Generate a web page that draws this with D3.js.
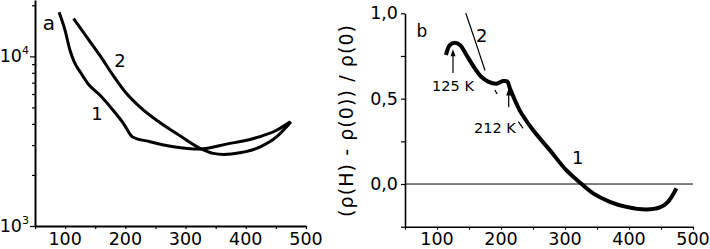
<!DOCTYPE html>
<html>
<head>
<meta charset="utf-8">
<script src="https://cdn.jsdelivr.net/npm/d3@7"></script>
<style>
  body { margin: 0; background: #fff; }
  svg { display: block; font-family: "DejaVu Sans", "Liberation Sans", Arial, sans-serif; }
  .axis path, .axis line { stroke: #000; }
  .axis text { display: none; }
</style>
</head>
<body>
<svg id="chart" width="710" height="249"></svg>
<script>
// panel a : resistance (log) vs T
var leftT1 = [90, 100, 108, 115, 125, 138, 158, 180, 197, 212, 241, 280, 324, 368, 413, 451, 474];
var leftR1 = [18200, 14200, 10900, 9300, 8100, 6900, 5900, 4800, 4020, 3350, 3140, 2930, 2840, 3040, 3280, 3670, 4110];
var leftT2 = [114, 136, 158, 180, 202, 224, 252, 285, 324, 346, 363, 390, 424, 451, 470, 475];
var leftR2 = [16700, 13000, 10100, 7700, 6040, 5040, 4200, 3510, 2870, 2680, 2640, 2700, 2930, 3350, 3930, 4110];

// panel b : magnetoresistance vs T
var rightT1 = [114, 120, 128, 136, 146, 159, 170, 180, 193, 203, 210, 214, 229, 250, 276, 302, 326, 344, 370, 396, 427, 448, 461, 474];
var rightR1 = [0.756, 0.814, 0.828, 0.814, 0.756, 0.678, 0.625, 0.6, 0.588, 0.603, 0.6, 0.56, 0.433, 0.316, 0.2, 0.081, 0.0, -0.055, -0.104, -0.134, -0.149, -0.137, -0.104, -0.026];
var rightT2 = [145, 160, 175];
var rightR2 = [1.0, 0.835, 0.665];
var dashT = [[190.5, 194], [227, 234.5], [272, 279]];
var dashR = [[0.55, 0.527], [0.365, 0.326], [0.21, 0.181]];

var xTicks = [100, 200, 300, 400, 500];
var rTicks = [0, 0.5, 1.0];

var svg = d3.select('#chart');

// ---------- panel a ----------
var xa = d3.scaleLinear().domain([50, 500]).range([35, 306]);
var ya = d3.scaleLog().domain([1000, 21500]).range([226, 0]);

var ga = svg.append('g');

ga.append('g')
    .attr('class', 'axis')
    .attr('transform', `translate(0,${ya(1000)})`)
    .call(d3.axisBottom(xa).tickValues(d3.range(50, 501, 50)).tickSize(3).tickSizeOuter(0))
    .call(g => g.select('.domain').attr('stroke-width', 2))
    .call(g => g.selectAll('line').attr('stroke-width', 1.2));

var logMinor = [2000, 3000, 4000, 5000, 6000, 7000, 8000, 9000, 20000];
ga.append('g')
    .attr('class', 'axis')
    .attr('transform', `translate(${xa(50)},0)`)
    .call(d3.axisLeft(ya).tickValues([1000, 10000]).tickSize(5).tickSizeOuter(0))
    .call(g => g.select('.domain').attr('stroke-width', 2))
    .call(g => g.selectAll('line').attr('stroke-width', 1.2));
ga.append('g')
    .attr('class', 'axis')
    .attr('transform', `translate(${xa(50)},0)`)
    .call(d3.axisLeft(ya).tickValues(logMinor).tickSize(3).tickSizeOuter(0))
    .call(g => g.select('.domain').remove())
    .call(g => g.selectAll('line').attr('stroke-width', 1.2));

ga.selectAll('text.xl')
    .data(xTicks)
    .enter()
    .append('text')
    .attr('x', d => xa(d))
    .attr('y', 245)
    .attr('text-anchor', 'middle')
    .attr('font-size', 17.5)
    .text(d => d);

var decades = [[1000, '3'], [10000, '4']];
decades.forEach(function (d) {
    var t = ga.append('text')
        .attr('x', 29)
        .attr('y', ya(d[0]) + 6)
        .attr('text-anchor', 'end')
        .attr('font-size', 17.5);
    t.append('tspan').text('10');
    t.append('tspan').attr('dy', -8).attr('font-size', 11).text(d[1]);
});

var lineA = d3.line()
    .x(d => xa(d[0]))
    .y(d => ya(d[1]))
    .curve(d3.curveMonotoneX);

ga.append('path')
    .datum(d3.zip(leftT1, leftR1))
    .attr('d', lineA)
    .attr('fill', 'none')
    .attr('stroke', '#000')
    .attr('stroke-width', 3);
ga.append('path')
    .datum(d3.zip(leftT2, leftR2))
    .attr('d', lineA)
    .attr('fill', 'none')
    .attr('stroke', '#000')
    .attr('stroke-width', 3);

var labelsA = [['a', 73, 14300, 20], ['2', 191, 8600, 18], ['1', 153, 4210, 18]];
ga.selectAll('text.lab')
    .data(labelsA)
    .enter()
    .append('text')
    .attr('x', d => xa(d[1]))
    .attr('y', d => ya(d[2]))
    .attr('text-anchor', 'middle')
    .attr('font-size', d => d[3])
    .text(d => d[0]);

// ---------- panel b ----------
var xb = d3.scaleLinear().domain([50, 500]).range([405, 693]);
var yb = d3.scaleLinear().domain([-0.25, 1.0]).range([226.7, 13.3]);

var gb = svg.append('g');

gb.append('g')
    .attr('class', 'axis')
    .attr('transform', `translate(0,${yb(-0.25)})`)
    .call(d3.axisBottom(xb).tickValues(d3.range(50, 501, 50)).tickSize(3).tickSizeOuter(0))
    .call(g => g.select('.domain').attr('stroke-width', 1.6))
    .call(g => g.selectAll('line').attr('stroke-width', 1.2));
gb.append('g')
    .attr('class', 'axis')
    .attr('transform', `translate(${xb(50)},0)`)
    .call(d3.axisLeft(yb).tickValues([-0.25, 0, 0.25, 0.5, 0.75, 1.0]).tickSize(4).tickSizeOuter(0))
    .call(g => g.select('.domain').attr('stroke-width', 1.6))
    .call(g => g.selectAll('line').attr('stroke-width', 1.2));

gb.selectAll('text.xl')
    .data(xTicks)
    .enter()
    .append('text')
    .attr('x', d => xb(d))
    .attr('y', 245)
    .attr('text-anchor', 'middle')
    .attr('font-size', 17.5)
    .text(d => d);

gb.selectAll('text.yl')
    .data(rTicks)
    .enter()
    .append('text')
    .attr('x', 398)
    .attr('y', d => yb(d) + 6)
    .attr('text-anchor', 'end')
    .attr('font-size', 17.5)
    .text(d => d3.format('.1f')(d).replace('.', ','));

// zero line
gb.append('line')
    .attr('x1', xb(50)).attr('x2', xb(500))
    .attr('y1', yb(0)).attr('y2', yb(0))
    .attr('stroke', '#000')
    .attr('stroke-width', 1);

var lineB = d3.line()
    .x(d => xb(d[0]))
    .y(d => yb(d[1]))
    .curve(d3.curveCatmullRom.alpha(0.5));

gb.append('path')
    .datum(d3.zip(rightT1, rightR1))
    .attr('d', lineB)
    .attr('fill', 'none')
    .attr('stroke', '#000')
    .attr('stroke-width', 4);
gb.append('path')
    .datum(d3.zip(rightT2, rightR2))
    .attr('d', lineB)
    .attr('fill', 'none')
    .attr('stroke', '#000')
    .attr('stroke-width', 1.2);
dashT.forEach(function (t, i) {
    gb.append('path')
        .datum(d3.zip(t, dashR[i]))
        .attr('d', d3.line().x(d => xb(d[0])).y(d => yb(d[1])))
        .attr('stroke', '#000')
        .attr('stroke-width', 1.2);
});

// arrows at 125 K and 212 K
var arrows = [[125, 0.65, 0.79], [212, 0.45, 0.56]];
arrows.forEach(function (a) {
    var x = xb(a[0]), y0 = yb(a[1]), y1 = yb(a[2]);
    gb.append('line')
        .attr('x1', x).attr('x2', x)
        .attr('y1', y0).attr('y2', y1 + 4)
        .attr('stroke', '#000')
        .attr('stroke-width', 1.2);
    gb.append('path')
        .attr('d', `M${x},${y1}L${x - 2.5},${y1 + 7}L${x + 2.5},${y1 + 7}Z`)
        .attr('fill', '#000');
});

var labelsB = [['b', 76.5, 0.861, 17], ['2', 170, 0.832, 18], ['1', 320, 0.117, 18],
               ['125 K', 125, 0.546, 14.5], ['212 K', 190.5, 0.298, 14.5]];
gb.selectAll('text.lab')
    .data(labelsB)
    .enter()
    .append('text')
    .attr('x', d => xb(d[1]))
    .attr('y', d => yb(d[2]))
    .attr('text-anchor', 'middle')
    .attr('font-size', d => d[3])
    .text(d => d[0]);

svg.append('text')
    .attr('transform', 'translate(353,121) rotate(-90)')
    .attr('text-anchor', 'middle')
    .attr('font-size', 19)
    .attr('textLength', 192)
    .attr('lengthAdjust', 'spacing')
    .text('(ρ(H) - ρ(0)) / ρ(0)');
</script>
</body>
</html>
